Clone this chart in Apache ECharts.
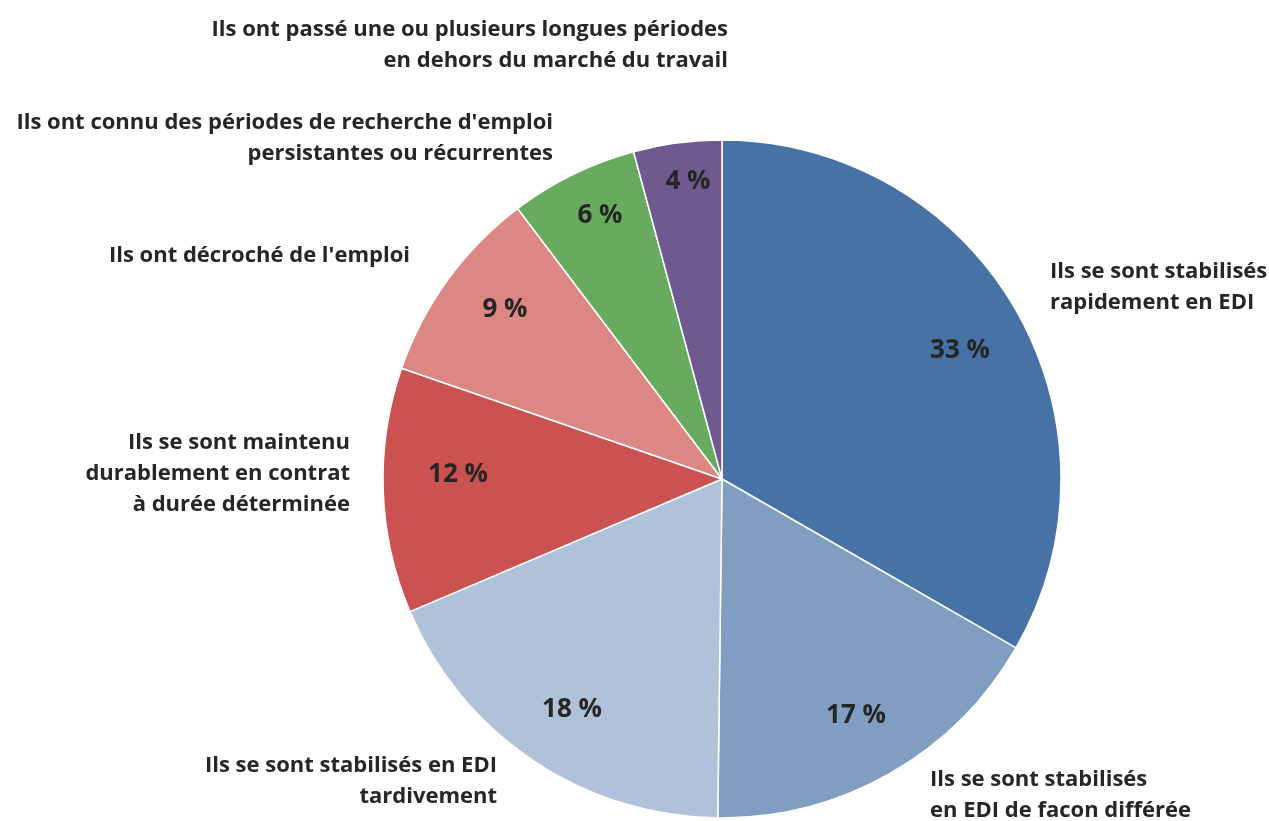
<!DOCTYPE html>
<html>
<head>
<meta charset="utf-8">
<title>Parcours</title>
<script src="https://cdn.jsdelivr.net/npm/echarts@6/dist/echarts.min.js"></script>
<style>
  html, body { margin: 0; padding: 0; background: #fff; }
  #container { width: 1269px; height: 821px; }
</style>
</head>
<body>
<div id="container"></div>
<script>
// parts (%), clockwise from 12 o'clock
var categories = [
    'Ils se sont stabilisés\nrapidement en EDI',
    'Ils se sont stabilisés\nen EDI de facon différée',
    'Ils se sont stabilisés en EDI\ntardivement',
    'Ils se sont maintenu\ndurablement en contrat\nà durée déterminée',
    "Ils ont décroché de l'emploi",
    "Ils ont connu des périodes de recherche d'emploi\npersistantes ou récurrentes",
    'Ils ont passé une ou plusieurs longues périodes\nen dehors du marché du travail'
];
var values = [33.3, 16.9, 18.4, 11.7, 9.4, 6.1, 4.2];
var colors = ['#4672a5', '#7f9ec1', '#b0c2d9', '#cc5151', '#dd8785', '#69ab5e', '#6e5a8f'];

// where each category text sits (layout, not data)
var labelSpots = [
    {x: 1050, y: 287, align: 'left'},
    {x: 930,  y: 795, align: 'left'},
    {x: 497,  y: 781, align: 'right'},
    {x: 350,  y: 474, align: 'right'},
    {x: 410,  y: 256, align: 'right'},
    {x: 553,  y: 138, align: 'right'},
    {x: 728,  y: 45,  align: 'right'}
];
// centres of the percentage texts
var pctSpots = [
    [960, 351], [856, 716], [572, 710], [458, 475], [505, 310], [600, 216], [688, 182]
];

var pieData = categories.map(function (c, i) {
    return {name: c, value: values[i], itemStyle: {color: colors[i]}};
});

var myChart = echarts.init(document.getElementById('container'));
var option = {
    backgroundColor: '#ffffff',
    animation: false,
    textStyle: {fontFamily: 'Open Sans'},
    series: [
        {
            type: 'pie',
            center: [722, 479],
            radius: [0, 339],
            startAngle: 90,
            clockwise: true,
            silent: true,
            data: pieData,
            itemStyle: {borderColor: '#ffffff', borderWidth: 1.5},
            label: {
                show: true,
                position: 'outside',
                color: '#262626',
                fontFamily: 'Open Sans',
                fontWeight: 'bold',
                fontSize: 22,
                lineHeight: 31,
                overflow: 'none',
                formatter: '{b}'
            },
            labelLine: {show: false},
            labelLayout: function (p) {
                var s = labelSpots[p.dataIndex];
                return {x: s.x, y: s.y, align: s.align, verticalAlign: 'middle', width: 700};
            }
        },
        {
            type: 'pie',
            center: [722, 479],
            radius: [203, 339],
            startAngle: 90,
            clockwise: true,
            silent: true,
            z: 3,
            data: pieData.map(function (d) {
                return {name: d.name, value: d.value};
            }),
            itemStyle: {color: 'rgba(0,0,0,0)', borderWidth: 0},
            label: {
                show: true,
                position: 'inside',
                color: '#262626',
                fontFamily: 'Open Sans',
                fontWeight: 'bold',
                fontSize: 26,
                formatter: function (p) { return Math.round(p.value) + ' %'; }
            },
            labelLine: {show: false},
            labelLayout: function (p) {
                var s = pctSpots[p.dataIndex];
                return {x: s[0], y: s[1], align: 'center', verticalAlign: 'middle'};
            }
        }
    ]
};
myChart.setOption(option);
</script>
</body>
</html>
